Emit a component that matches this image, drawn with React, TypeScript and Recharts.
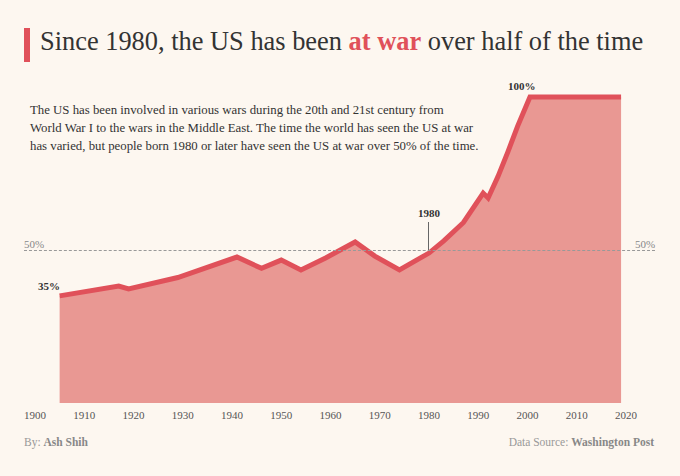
import React from "react";
import { ComposedChart, Area, XAxis, YAxis } from "recharts";

const years = [1905, 1917, 1919, 1929, 1941, 1946, 1950, 1954, 1959, 1965, 1969, 1974, 1980, 1983, 1987, 1991, 1992, 1994, 1996, 1998, 2000.5, 2019];
const shares = [35, 38.2, 37.3, 41, 47.7, 44, 46.7, 43.5, 47.4, 52.6, 48, 43.5, 49, 53, 59, 68.6, 67, 74, 82, 90.5, 100, 100];
const xTicks = [1900, 1910, 1920, 1930, 1940, 1950, 1960, 1970, 1980, 1990, 2000, 2010, 2020];
const introLines = [
  "The US has been involved in various wars during the 20th and 21st century from",
  "World War I to the wars in the Middle East. The time the world has seen the US at war",
  "has varied, but people born 1980 or later have seen the US at war over 50% of the time.",
];

const data = years.map((y, i) => ({ year: y, share: shares[i] }));

const serif = "'Liberation Serif', 'DejaVu Serif', serif";

export default function App() {
  return (
    <div style={{ position: "absolute", left: 0, top: 0, width: 680, height: 476, background: "#fdf7f0", fontFamily: serif, overflow: "hidden" }}>
      <div style={{ position: "absolute", left: 24, top: 28, width: 6, height: 34, background: "#e0515a" }} />
      <div style={{ position: "absolute", left: 40, top: 26, fontSize: 26.4, color: "#333", whiteSpace: "nowrap" }}>
        Since 1980, the US has been <span style={{ color: "#e0515a", fontWeight: "bold" }}>at war</span> over half of the time
      </div>
      <div style={{ position: "absolute", left: 30, top: 101, fontSize: 12.8, lineHeight: "18px", color: "#333", whiteSpace: "nowrap" }}>
        {introLines.map((l, i) => <div key={i}>{l}</div>)}
      </div>
      <div style={{ position: "absolute", left: 24, top: 238, fontSize: 11, color: "#888" }}>50%</div>
      <div style={{ position: "absolute", left: 635, top: 238, fontSize: 11, color: "#888" }}>50%</div>
      <div style={{ position: "absolute", left: 0, top: 0 }}>
        <ComposedChart width={680} height={476} data={data} margin={{ top: 97, right: 54, bottom: 43, left: 35 }}>
          <XAxis dataKey="year" type="number" domain={[1900, 2020]} ticks={xTicks} axisLine={false} tickLine={false} height={30}
            tick={{ fontSize: 11, fill: "#555", fontFamily: serif }} />
          <YAxis hide domain={[0, 100]} />
          <Area type="linear" dataKey="share" stroke="#e0515a" strokeWidth={5} fill="#e99893" fillOpacity={1} isAnimationActive={false} />
        </ComposedChart>
      </div>
      <div style={{ position: "absolute", left: 24, top: 250, width: 631, borderTop: "1px dashed #999" }} />
      <div style={{ position: "absolute", left: 428, top: 222, height: 28, borderLeft: "1px solid #666" }} />
      <div style={{ position: "absolute", left: 418, top: 207, fontSize: 11, fontWeight: "bold", color: "#333" }}>1980</div>
      <div style={{ position: "absolute", left: 38, top: 280, fontSize: 11, fontWeight: "bold", color: "#333" }}>35%</div>
      <div style={{ position: "absolute", left: 508, top: 80, fontSize: 11, fontWeight: "bold", color: "#333" }}>100%</div>
      <div style={{ position: "absolute", left: 24, top: 436, fontSize: 11.5, color: "#999" }}>By: <b style={{ color: "#888" }}>Ash Shih</b></div>
      <div style={{ position: "absolute", right: 26, top: 436, fontSize: 11.5, color: "#999" }}>Data Source: <b style={{ color: "#888" }}>Washington Post</b></div>
    </div>
  );
}
